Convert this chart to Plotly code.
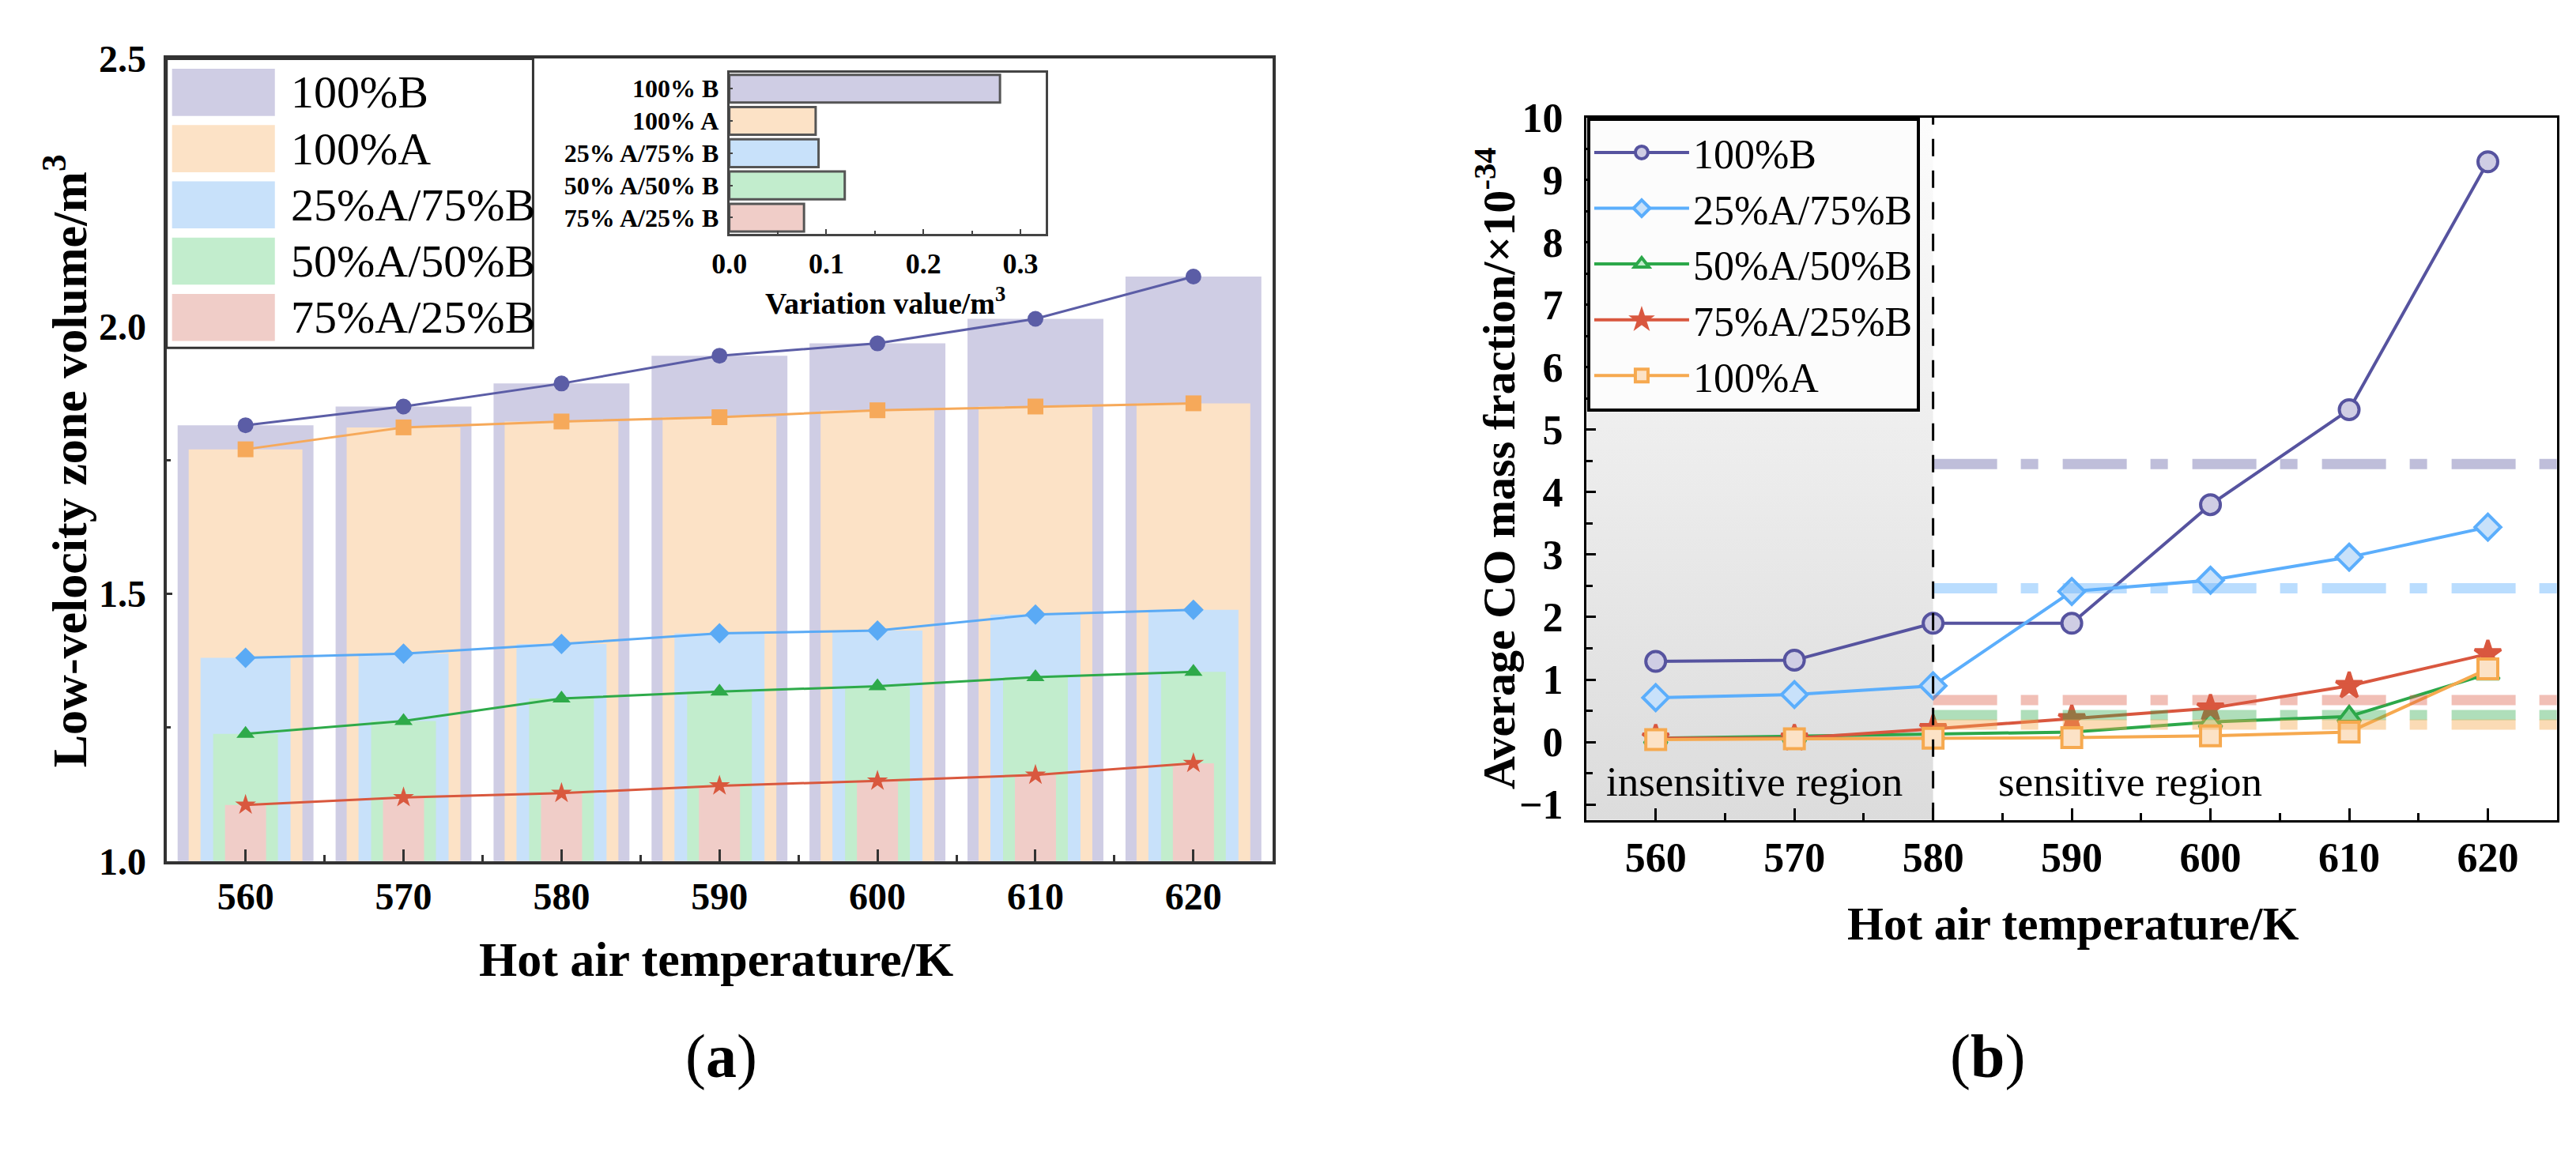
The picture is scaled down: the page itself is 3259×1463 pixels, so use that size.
import plotly.graph_objects as go

FONT = "Liberation Serif, Times New Roman, serif"
W, H = 3259, 1463

temps = [560, 570, 580, 590, 600, 610, 620]

# (a) low-velocity zone volume, m^3
vol_names = ["100%B", "100%A", "25%A/75%B", "50%A/50%B", "75%A/25%B"]
vol_100B = [1.815, 1.850, 1.893, 1.945, 1.968, 2.014, 2.093]
vol_100A = [1.770, 1.811, 1.822, 1.830, 1.843, 1.850, 1.856]
vol_25A75B = [1.380, 1.388, 1.406, 1.426, 1.431, 1.461, 1.470]
vol_50A50B = [1.238, 1.262, 1.304, 1.317, 1.327, 1.344, 1.354]
vol_75A25B = [1.105, 1.119, 1.127, 1.141, 1.150, 1.161, 1.183]

# inset: variation value, m^3
var_names = ["100% B", "100% A", "25% A/75% B", "50% A/50% B", "75% A/25% B"]
var_values = [0.279, 0.089, 0.092, 0.119, 0.077]

# (b) average CO mass fraction, x10^-34
co_names = ["100%B", "25%A/75%B", "50%A/50%B", "75%A/25%B", "100%A"]
co_100B = [1.29, 1.31, 1.90, 1.90, 3.80, 5.32, 9.29]
co_25A75B = [0.71, 0.76, 0.90, 2.41, 2.59, 2.96, 3.44]
co_50A50B = [0.06, 0.09, 0.13, 0.16, 0.32, 0.41, 1.09]
co_75A25B = [0.06, 0.06, 0.21, 0.37, 0.54, 0.90, 1.41]
co_100A = [0.04, 0.05, 0.06, 0.07, 0.10, 0.16, 1.17]
co_means = [4.45, 2.46, 0.43, 0.67, 0.28]  # dash-dot levels in the sensitive region
threshold_T = 580

# styles
bar_colors = ["#CFCDE4", "#FCE2C6", "#C8E1FA", "#C2EDCD", "#F0CDC8"]
line_colors_a = ["#5B5DA6", "#F6A95A", "#5AAAF5", "#2EAA4A", "#D9583E"]
symbols_a = ["circle", "square", "diamond", "triangle-up", "star"]
bar_widths = [8.6, 7.2, 5.7, 4.1, 2.6]

line_colors_b = ["#56539F", "#5BAEFC", "#2CA84A", "#D9573F", "#F6A94F"]
fill_colors_b = ["#CFCDE4", "#C8E1FA", "#C2EDCD", "#D9573F", "#FCE2C6"]
symbols_b = ["circle", "diamond", "triangle-up", "star", "square"]
mean_colors = ["rgba(86,83,159,0.38)", "rgba(91,174,252,0.42)", "rgba(44,168,74,0.38)",
               "rgba(217,87,63,0.38)", "rgba(246,169,79,0.42)"]

x_range = [555, 625]
a_yrange = [1.0, 2.5]
b_yrange = [-1.25, 10]


def px_x(p):
    return p / W


def px_y(p):
    return 1 - p / H


fig = go.Figure()

# ---- panel (a): overlaid bars + lines
vols = [vol_100B, vol_100A, vol_25A75B, vol_50A50B, vol_75A25B]
for vals, c, w in zip(vols, bar_colors, bar_widths):
    fig.add_trace(go.Bar(x=temps, y=vals, width=w, marker=dict(color=c, line_width=0),
                         xaxis="x", yaxis="y", showlegend=False, hoverinfo="skip"))
for vals, c, s in zip(vols, line_colors_a, symbols_a):
    fig.add_trace(go.Scatter(x=temps, y=vals, mode="lines+markers",
                             line=dict(color=c, width=3),
                             marker=dict(symbol=s, size=20, color=c),
                             xaxis="x", yaxis="y", showlegend=False))

# inset
fig.add_trace(go.Bar(y=var_names, x=var_values, orientation="h", width=0.86,
                     marker=dict(color=bar_colors, line=dict(color="#555555", width=3)),
                     xaxis="x3", yaxis="y3", showlegend=False))

# ---- panel (b)
fig.add_trace(go.Scatter(x=[x_range[0], threshold_T, threshold_T, x_range[0], x_range[0]],
                         y=[b_yrange[0], b_yrange[0], b_yrange[1], b_yrange[1], b_yrange[0]],
                         mode="lines", line_width=0, fill="toself",
                         fillgradient=dict(type="vertical",
                                           colorscale=[[0, "#DCDCDC"], [1, "#FCFCFC"]]),
                         xaxis="x2", yaxis="y2", showlegend=False, hoverinfo="skip"))

cos = [co_100B, co_25A75B, co_50A50B, co_75A25B, co_100A]
for name, vals, lc, fc, s in zip(co_names, cos, line_colors_b, fill_colors_b, symbols_b):
    fig.add_trace(go.Scatter(x=temps, y=vals, name=name, mode="lines+markers",
                             line=dict(color=lc, width=4),
                             marker=dict(symbol=s, size=25, color=fc,
                                         line=dict(color=lc, width=4)),
                             xaxis="x2", yaxis="y2"))

for m, c in zip(co_means, mean_colors):
    fig.add_trace(go.Scatter(x=[threshold_T, x_range[1]], y=[m, m], mode="lines",
                             line=dict(color=c, width=13, dash="81px,30px,22px,31px"),
                             xaxis="x2", yaxis="y2", showlegend=False, hoverinfo="skip"))

bold = dict(family=FONT, color="black", weight="bold")

common_x = dict(range=x_range, tickmode="linear", tick0=560, dtick=10, ticks="inside",
                tickwidth=3, showline=True, mirror=True, showgrid=False, zeroline=False)

fig.update_layout(
    width=W, height=H, margin=dict(l=0, r=0, t=0, b=0),
    paper_bgcolor="white", plot_bgcolor="white", barmode="overlay",
    font=dict(family=FONT, color="black"),
    xaxis=dict(**common_x, domain=[px_x(181), px_x(1590)], anchor="y",
               ticklen=15, tickcolor="#333333", linecolor="#333333", linewidth=4,
               minor=dict(ticks="inside", ticklen=8, dtick=5, tick0=555, tickcolor="#333333", tickwidth=3),
               tickfont=dict(size=48, **bold), ticklabelstandoff=0),
    yaxis=dict(domain=[px_y(1095), px_y(40)], anchor="x", range=a_yrange,
               tickmode="linear", tick0=1.0, dtick=0.5, tickformat=".1f",
               ticks="inside", ticklen=7, tickwidth=3, tickcolor="#333333",
               minor=dict(ticks="inside", ticklen=5, dtick=0.25, tickcolor="#333333"),
               showline=True, mirror=True, linecolor="#333333", linewidth=4,
               showgrid=False, zeroline=False,
               tickfont=dict(size=48, **bold), ticklabelstandoff=12),
    xaxis2=dict(**common_x, domain=[px_x(1990), px_x(3227)], anchor="y2",
                ticklen=15, tickcolor="black", linecolor="black", linewidth=3,
                minor=dict(ticks="inside", ticklen=9, dtick=5, tick0=555, tickcolor="black", tickwidth=3),
                tickfont=dict(size=52, **bold), ticklabelstandoff=0),
    yaxis2=dict(domain=[px_y(1041), px_y(117)], anchor="x2", range=b_yrange,
                tickmode="linear", tick0=0, dtick=1, ticks="inside", ticklen=12,
                tickwidth=3, tickcolor="black",
                minor=dict(ticks="inside", ticklen=8, dtick=0.5, tickcolor="black"),
                showline=True, mirror=True, linecolor="black", linewidth=3,
                showgrid=False, zeroline=False,
                tickfont=dict(size=52, **bold), ticklabelstandoff=16),
    xaxis3=dict(domain=[px_x(898), px_x(1301)], anchor="y3", range=[0, 0.326],
                tickmode="linear", tick0=0, dtick=0.1, tickformat=".1f",
                ticks="inside", ticklen=6, tickwidth=2, tickcolor="#444444",
                minor=dict(ticks="inside", ticklen=4, dtick=0.05, tickcolor="#444444"),
                showline=True, mirror=True, linecolor="#444444", linewidth=3,
                showgrid=False, zeroline=False,
                tickfont=dict(size=36, **bold), ticklabelstandoff=4),
    yaxis3=dict(domain=[px_y(270), px_y(58)], anchor="x3", autorange="reversed",
                type="category", tickmode="array", tickvals=var_names, ticktext=var_names,
                ticks="inside", ticklen=4, tickwidth=2, tickcolor="#444444",
                showline=True, mirror=True, linecolor="#444444", linewidth=3,
                showgrid=False, zeroline=False,
                tickfont=dict(size=32, **bold), ticklabelstandoff=4),
    legend=dict(x=px_x(1991), y=px_y(117), xanchor="left", yanchor="top",
                bgcolor="#FCFCFC", bordercolor="black", borderwidth=4,
                font=dict(family=FONT, size=52, color="black"),
                itemwidth=120, tracegroupgap=0),
)

# vertical threshold line in (b)
fig.add_shape(type="line", xref="x2", yref="y2 domain", x0=threshold_T, x1=threshold_T,
              y0=0, y1=1, line=dict(color="black", width=3, dash="22px,18px"))

# custom legend for (a)
fig.add_shape(type="rect", xref="paper", yref="paper", x0=px_x(181), x1=px_x(648),
              y0=px_y(420), y1=px_y(40), fillcolor="white", line=dict(color="#333333", width=3),
              layer="above")
for i, (name, c) in enumerate(zip(vol_names, bar_colors)):
    yc = 84 + 74 * i
    fig.add_shape(type="rect", xref="paper", yref="paper", x0=px_x(188), x1=px_x(319),
                  y0=px_y(yc + 31), y1=px_y(yc - 31), fillcolor=c, line_width=0, layer="above")
    fig.add_annotation(x=px_x(337), y=px_y(yc), xref="paper", yref="paper", text=name,
                       showarrow=False, xanchor="left", yanchor="middle",
                       font=dict(family=FONT, size=58, color="black"))

# axis titles and labels
titles = [
    ("Hot air temperature/K", 881, 1224, 0, 62),
    ("Low-velocity zone volume/m<sup>3</sup>", 52, 569, -90, 62),
    ("Variation value/m<sup>3</sup>", 1097, 358, 0, 38),
    ("Hot air temperature/K", 2610, 1177, 0, 59),
    ("Average CO mass fraction/×10<sup>-34</sup>", 1874, 578, -90, 58),
]
for text, x, y, ang, size in titles:
    fig.add_annotation(x=px_x(x), y=px_y(y), xref="paper", yref="paper", text=text,
                       showarrow=False, textangle=ang, xanchor="center", yanchor="middle",
                       font=dict(size=size, **bold))

for text, x in [("(<b>a</b>)", 840), ("(<b>b</b>)", 2551)]:
    fig.add_annotation(x=px_x(x), y=px_y(1399), xref="paper", yref="paper", text=text,
                       showarrow=False, font=dict(family=FONT, size=78, color="black"))

fig.add_annotation(x=567.1, y=-0.63, xref="x2", yref="y2", text="insensitive region",
                   showarrow=False, font=dict(family=FONT, size=53, color="black"))
fig.add_annotation(x=594.2, y=-0.63, xref="x2", yref="y2", text="sensitive region",
                   showarrow=False, font=dict(family=FONT, size=53, color="black"))

fig.write_html("out.html")
